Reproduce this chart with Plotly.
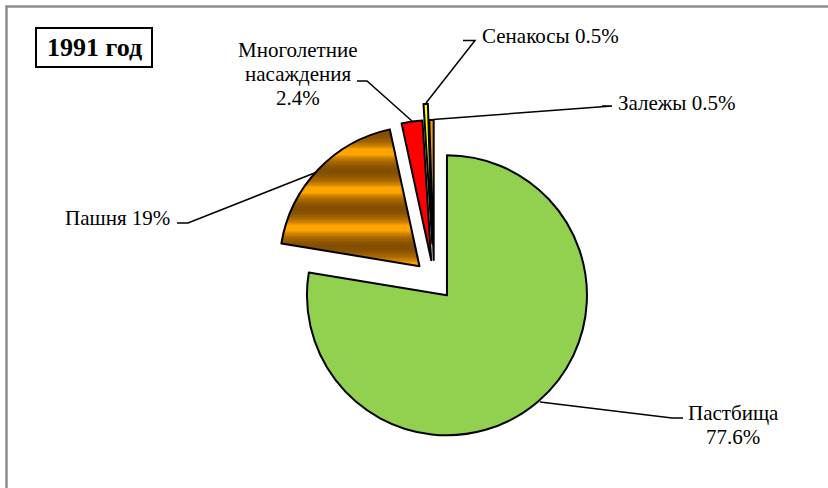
import plotly.graph_objects as go

# ---- data ----
categories = ["Пастбища", "Пашня", "Многолетние\nнасаждения", "Сенакосы", "Залежы"]
values = [77.6, 19, 2.4, 0.5, 0.5]
separators = ["\n", " ", "\n", " ", " "]
title_text = "1991 год"

# ---- style ----
W, H = 828, 488
colors = ["#92D050", "#FFA500", "#FF0000", "#FFFF00", "#F5A000"]
pulls = [0.143, 0.143, 0.143, 0.26, 0.143]
FONT = "Liberation Serif"
CLEAR = "rgba(0,0,0,0)"
stripe_solidities = [0.12, 0.22, 0.32, 0.42, 0.52, 0.62, 0.72, 0.82]

def px(x):
    return x / W

def py(y):
    return 1 - y / H

# pie centre (434,280) and radius 140 px
cx, cy, r = 434, 280, 140
half = r * (1 + max(pulls))
domain = dict(x=[px(cx - half), px(cx + half)], y=[py(cy + half), py(cy - half)])
labels = [c.replace("\n", " ") for c in categories]


def pie(marker):
    return go.Pie(labels=labels, values=values, sort=False, direction="clockwise",
                  rotation=0, pull=pulls, textinfo="none", hoverinfo="skip",
                  showlegend=False, domain=domain, marker=marker)


fig = go.Figure()
# base fills
fig.add_trace(pie(dict(colors=colors, line=dict(color="black", width=0))))
# layered stripes on the "Пашня" slice to imitate the gradient bands
for s in stripe_solidities:
    fig.add_trace(pie(dict(
        colors=[CLEAR] * len(values),
        line=dict(width=0),
        pattern=dict(shape=["", "-", "", "", ""], fgcolor="rgba(105,60,0,0.2)",
                     bgcolor=CLEAR, size=38, solidity=s),
    )))
# outlines on top
fig.add_trace(pie(dict(colors=[CLEAR] * len(values), line=dict(color="black", width=2))))

# label placement: (x, y of first line centre, anchor)
label_pos = [(733, 413, "center"), (172, 218, "right"), (298, 50, "center"),
             (480, 36, "left"), (616, 103, "left")]
leaders = [
    [(540, 402), (672, 418), (683, 418)],
    [(317, 172), (188, 223), (177, 223)],
    [(412, 121), (367, 81), (357, 81)],
    [(426, 103), (475, 40.5), (463, 40.5)],
    [(433, 119.5), (612, 106), (602, 106)],
]

annotations = []
shapes = []
for cat, val, sep, (lx, ly, anc), pts in zip(categories, values, separators, label_pos, leaders):
    text = f"{cat}{sep}{val:g}%"
    for i, line in enumerate(text.split("\n")):
        annotations.append(dict(
            x=px(lx), y=py(ly + 24 * i), xref="paper", yref="paper",
            text=line, showarrow=False, xanchor=anc, yanchor="middle",
            font=dict(family=FONT, size=21, color="black"),
        ))
    path = "M " + " L ".join(f"{px(x)},{py(y)}" for x, y in pts)
    shapes.append(dict(type="path", path=path, xref="paper", yref="paper",
                       line=dict(color="black", width=1.5)))

# title box
annotations.append(dict(
    x=px(94), y=py(47.5), xref="paper", yref="paper", text=f"<b>{title_text}</b>",
    showarrow=False, xanchor="center", yanchor="middle",
    font=dict(family=FONT, size=26, color="black"),
))
shapes.append(dict(type="rect", xref="paper", yref="paper",
                   x0=px(36), x1=px(152), y0=py(67), y1=py(28),
                   line=dict(color="black", width=2)))
# chart frame
shapes.append(dict(type="rect", xref="paper", yref="paper",
                   x0=px(6.5), x1=px(840), y0=py(500), y1=py(6.5),
                   line=dict(color="#8C8C8C", width=2.5)))

fig.update_layout(
    width=W, height=H,
    margin=dict(l=0, r=0, t=0, b=0),
    paper_bgcolor="white", plot_bgcolor="white",
    annotations=annotations, shapes=shapes,
)
fig.write_html("out.html", config={"displayModeBar": False},
               post_script="document.body.style.margin='0';document.body.style.overflow='hidden';")
